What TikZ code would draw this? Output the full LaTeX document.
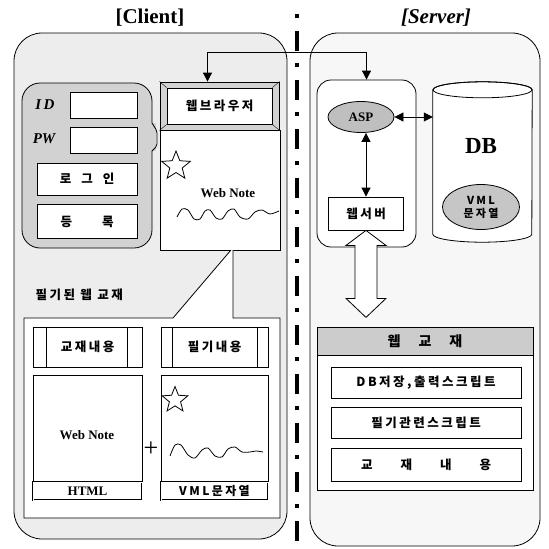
\documentclass[tikz,border=0pt]{standalone}
\usepackage{fontspec}
\setmainfont{Liberation Serif}
\newfontfamily\kr{Noto Sans CJK KR}[LetterSpace=20]
\usetikzlibrary{arrows.meta,shapes.geometric}

\begin{document}
\begin{tikzpicture}[x=1pt,y=-1pt,
  box/.style={draw,thick,fill=white,inner sep=0pt},
  kor/.style={font=\kr\bfseries\fontsize{12.5}{14}\selectfont},
  lat/.style={font=\bfseries\fontsize{13}{15}\selectfont},
  tip/.style={{Triangle[length=9pt,width=9pt]}-{Triangle[length=9pt,width=9pt]}},
  star5/.style={draw,thick,star,star points=5,star point ratio=2.3,inner sep=0pt}]
\fill[white] (0,0) rectangle (549,549);
\useasboundingbox (0,0) rectangle (549,549);

% titles
\node[font=\bfseries\fontsize{21}{21}\selectfont] (tcli) at (150,18) {[Client]};
\node[font=\bfseries\itshape\fontsize{21}{21}\selectfont] (tsrv) at (436,18) {[Server]};

% divider
\draw[line width=3.5pt,dash pattern=on 4pt off 13pt on 20pt off 12pt] (297,14) -- (297,549);

% client side
\draw[thick,fill=gray!14,rounded corners=28pt] (14,539) rectangle (287,33);
\draw[thick,fill=gray!35,rounded corners=18pt] (22,248) rectangle (152,83);
\fill[gray!35] (151,123) rectangle (156,151);
\draw[thick,rounded corners=2pt] (152,123) -- (157,131) -- (157,146) -- (152,151);
\node[font=\bfseries\itshape\fontsize{15}{15}\selectfont] (idl) at (45,105) {I\,D};
\node[font=\bfseries\itshape\fontsize{15}{15}\selectfont] (pwl) at (44,139) {PW};
\node[box,minimum width=67pt,minimum height=26pt] (idb) at (103.5,105.5) {};
\node[box,minimum width=67pt,minimum height=26pt] (pwb) at (103.5,140) {};
\node[box,kor,minimum width=100pt,minimum height=32pt] (login) at (87,179) {로\hspace{10pt}그\hspace{10pt}인};
\node[box,kor,minimum width=100pt,minimum height=34pt] (join) at (87,221.5) {등\hspace{30pt}록};

\node[box,fill=gray!35,minimum width=119pt,minimum height=48pt] (bro) at (219.5,106) {};
\node[box,kor,minimum width=105pt,minimum height=36pt] (broin) at (219.5,106) {웹브라우저};
\foreach \c in {north west,north east,south west,south east}
  \draw (bro.\c) -- (broin.\c);
\node[box,minimum width=120pt,minimum height=120pt] (note) at (220,190) {};
\node[star5,minimum size=30pt] (st1) at (176,166) {};
\node[lat] (wn1) at (228,193) {Web Note};
\draw[thick] plot[smooth] coordinates {(177,217) (182,209) (188,210) (194,219) (200,219) (205,211)
  (210,210) (216,218) (222,219) (228,211) (234,209) (240,217) (248,219) (255,212) (262,210) (270,214) (279,211)};

% written web material
\node[kor,anchor=west] (blbl) at (32,295) {필기된 웹 교재};
\draw[thick,fill=white] (231,250) -- (173,318) -- (24,318) -- (24,518) -- (280,518) -- (280,318)
  -- (233,318) -- (233,250);
\node[box,kor,minimum width=109pt,minimum height=40pt] (hcont) at (87.5,347) {교재내용};
\draw ([xshift=14pt]hcont.north west) -- ([xshift=14pt]hcont.south west)
      ([xshift=-15pt]hcont.north east) -- ([xshift=-15pt]hcont.south east);
\node[box,kor,minimum width=107pt,minimum height=40pt] (ncont) at (214.5,347) {필기내용};
\draw ([xshift=12pt]ncont.north west) -- ([xshift=12pt]ncont.south west)
      ([xshift=-11pt]ncont.north east) -- ([xshift=-11pt]ncont.south east);
\node[box,minimum width=109pt,minimum height=107pt] (pg1) at (87.5,428.5) {};
\node[lat] (wn2) at (87,435) {Web Note};
\node[box,lat,double,double distance=1pt,minimum width=109pt,minimum height=18pt] (html) at (87.5,491) {HTML};
\node[box,minimum width=107pt,minimum height=107pt] (pg2) at (214.5,428.5) {};
\node[star5,minimum size=27pt] (st2) at (175,400) {};
\draw[thick] plot[smooth] coordinates {(170,456) (175,445) (181,445) (188,455) (195,458) (202,450)
  (208,448) (215,456) (222,457) (228,449) (235,447) (242,452) (250,452) (256,451) (263,452)};
\node[box,double,double distance=1pt,minimum width=107pt,minimum height=18pt,font=\kr\bfseries\fontsize{12}{13}\selectfont] (vml) at (214.5,491) {VML문자열};
\node[font=\fontsize{26}{26}\selectfont] (plus) at (151,449) {+};

% server side
\draw[thick,fill=gray!6,rounded corners=28pt] (310,546) rectangle (540,33);
\node[box,rounded corners=14pt,minimum width=99pt,minimum height=167pt] (grp) at (366.5,163.5) {};
\node[draw,thick,ellipse,fill=gray!50,minimum width=66pt,minimum height=31pt,inner sep=0pt,lat] (asp) at (361,117) {ASP};
\node[minimum width=99pt,minimum height=160pt,inner sep=0pt] (db) at (482.5,162) {};
\draw[thick,fill=white] ([yshift=-8pt]db.north west) -- ([yshift=8pt]db.south west)
  arc[start angle=180,end angle=360,x radius=49.5pt,y radius=8pt] -- ([yshift=-8pt]db.north east)
  arc[start angle=0,end angle=180,x radius=49.5pt,y radius=8pt] -- cycle;
\draw[thick] ([yshift=-8pt]db.north) ellipse[x radius=49.5pt,y radius=8pt];
\node[font=\bfseries\fontsize{23}{23}\selectfont] (dbl) at (481,146) {DB};
\node[draw,thick,ellipse,fill=gray!45,minimum width=77pt,minimum height=45pt,inner sep=0pt,align=center,
  font=\kr\bfseries\fontsize{11}{13}\selectfont] (vmls) at (481,207) {VML\\문자열};
\node[box,kor,minimum width=75pt,minimum height=33pt] (wsrv) at (366,213.5) {웹서버};

\draw[thick,tip] ([xshift=-12pt]bro.north) -- ++(0,-29) -| (grp.north);
\draw[thick,tip] (asp.east) -- (asp.east -| db.west);
\draw[thick,tip] (asp.south -| wsrv.north) -- (wsrv.north);
\draw[thick,fill=white] (wsrv.south) -- ++(20,15) -- ++(-9,0) -- ++(0,53) -- ++(9,0)
  -- ++(-20,19) -- ++(-20,-19) -- ++(9,0) -- ++(0,-53) -- ++(-9,0) -- cycle;

\node[box,minimum width=216pt,minimum height=163pt] (wb) at (425,408.5) {};
\node[box,fill=gray!40,minimum width=216pt,minimum height=28pt,
  font=\kr\bfseries\fontsize{14}{15}\selectfont] (wbh) at (425,341) {웹\hspace{18pt}교\hspace{18pt}재};
\node[box,kor,minimum width=190pt,minimum height=31pt] (sc1) at (426,382.5) {DB저장,출력스크립트};
\node[box,kor,minimum width=190pt,minimum height=31pt] (sc2) at (426,422.5) {필기관련스크립트};
\node[box,kor,minimum width=190pt,minimum height=33pt] (sc3) at (426,464.5) {교\hspace{28pt}재\hspace{28pt}내\hspace{28pt}용};
\end{tikzpicture}
\end{document}
